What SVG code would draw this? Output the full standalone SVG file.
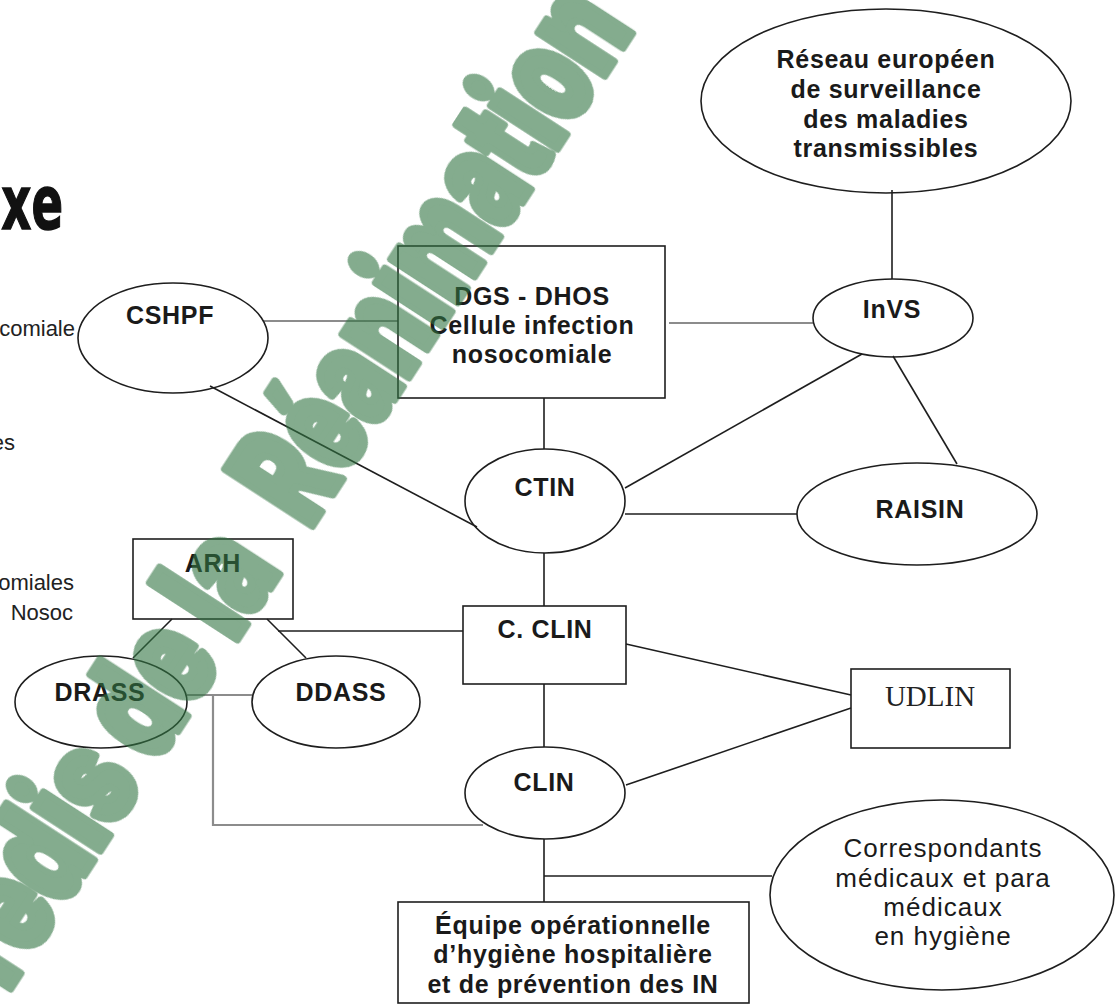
<svg xmlns="http://www.w3.org/2000/svg" width="1118" height="1005" viewBox="0 0 1118 1005">
<style>
.shape{fill:none;stroke:#1e1e1e;stroke-width:1.6}
.ln{stroke:#1e1e1e;stroke-width:1.6;fill:none}
.gl{stroke:#8c8c8c;stroke-width:2.2;fill:none}
.lbl{font-family:"Liberation Sans",Arial,sans-serif;font-weight:bold;font-size:25px;letter-spacing:0.7px;fill:#1a1a1a;text-anchor:middle}
.reg{font-family:"Liberation Sans",Arial,sans-serif;font-size:26px;letter-spacing:1px;fill:#1a1a1a;text-anchor:middle}
.frag{font-family:"Liberation Sans",Arial,sans-serif;font-size:22px;fill:#222;text-anchor:end}
.wm{font-family:Inter,Lato,"DejaVu Sans",sans-serif;font-weight:900;font-size:142px;fill:#327543;stroke:#327543;stroke-width:9;stroke-linejoin:round}
</style>
<rect width="1118" height="1005" fill="#fff"/>
<g id="page-fragments">
<text transform="translate(63,229) scale(0.63,1)" style="font-family:'DejaVu Sans',sans-serif;font-weight:bold;font-size:74px;fill:#111;stroke:#111;stroke-width:1.5;text-anchor:end">xe</text>
<text class="frag" x="75" y="336">comiale</text>
<text class="frag" x="15" y="450">es</text>
<text class="frag" x="74" y="590">omiales</text>
<text class="frag" x="73" y="620">Nosoc</text>
</g>
<g id="connectors">
<line class="gl" x1="263" y1="321" x2="398" y2="321"/>
<line class="gl" x1="669" y1="323" x2="813" y2="323"/>
<line class="ln" x1="892" y1="190" x2="892" y2="279"/>
<line class="ln" x1="862" y1="354" x2="625" y2="488"/>
<line class="ln" x1="893" y1="356" x2="957" y2="464"/>
<line class="ln" x1="625" y1="514" x2="797" y2="514"/>
<line class="ln" x1="544" y1="398" x2="544" y2="449"/>
<line class="ln" x1="210" y1="386" x2="477" y2="527"/>
<line class="ln" x1="544" y1="553" x2="544" y2="606"/>
<line class="ln" x1="172" y1="619" x2="133" y2="658"/>
<line class="ln" x1="267" y1="619" x2="306" y2="658"/>
<line class="ln" x1="278" y1="631" x2="463" y2="631"/>
<line class="ln" x1="626" y1="644" x2="851" y2="695"/>
<line class="ln" x1="626" y1="785" x2="851" y2="708"/>
<line class="ln" x1="544" y1="684" x2="544" y2="747"/>
<polyline class="gl" points="187,695 252,695"/>
<polyline class="gl" points="213,695 213,825 483,825"/>
<line class="ln" x1="544" y1="839" x2="544" y2="902"/>
<line class="ln" x1="544" y1="876" x2="772" y2="876"/>
</g>
<g id="reseau">
<ellipse class="shape" cx="886" cy="101" rx="185" ry="92"/>
<text class="lbl" x="886" y="68">Réseau européen</text>
<text class="lbl" x="886" y="98">de surveillance</text>
<text class="lbl" x="886" y="128">des maladies</text>
<text class="lbl" x="886" y="157">transmissibles</text>
</g>
<g id="cshpf">
<ellipse class="shape" cx="173" cy="338" rx="95" ry="55"/>
<text class="lbl" x="170" y="324">CSHPF</text>
</g>
<g id="dgs">
<rect class="shape" x="398" y="246" width="267" height="152"/>
<text class="lbl" x="532" y="305">DGS - DHOS</text>
<text class="lbl" x="532" y="334">Cellule infection</text>
<text class="lbl" x="532" y="363">nosocomiale</text>
</g>
<g id="invs">
<ellipse class="shape" cx="893" cy="318" rx="80" ry="39"/>
<text class="lbl" x="892" y="318">InVS</text>
</g>
<g id="ctin">
<ellipse class="shape" cx="545" cy="501" rx="80" ry="52"/>
<text class="lbl" x="545" y="496">CTIN</text>
</g>
<g id="raisin">
<ellipse class="shape" cx="917" cy="514" rx="120" ry="51"/>
<text class="lbl" x="920" y="518">RAISIN</text>
</g>
<g id="arh">
<rect class="shape" x="133" y="539" width="160" height="80"/>
<text class="lbl" x="213" y="572">ARH</text>
</g>
<g id="cclin">
<rect class="shape" x="463" y="606" width="163" height="78"/>
<text class="lbl" x="545" y="638">C. CLIN</text>
</g>
<g id="drass">
<ellipse class="shape" cx="101" cy="702" rx="86" ry="46"/>
<text class="lbl" x="100" y="701">DRASS</text>
</g>
<g id="ddass">
<ellipse class="shape" cx="336" cy="702" rx="84" ry="46"/>
<text class="lbl" x="341" y="701">DDASS</text>
</g>
<g id="udlin">
<rect class="shape" x="851" y="669" width="159" height="79"/>
<text x="930" y="706" style="font-family:'Liberation Serif','Times New Roman',serif;font-size:29px;fill:#222;text-anchor:middle">UDLIN</text>
</g>
<g id="clin">
<ellipse class="shape" cx="545" cy="793" rx="80" ry="46"/>
<text class="lbl" x="544" y="791">CLIN</text>
</g>
<g id="correspondants">
<ellipse class="shape" cx="942" cy="895" rx="172" ry="95"/>
<text class="reg" x="943" y="857">Correspondants</text>
<text class="reg" x="943" y="887">médicaux et para</text>
<text class="reg" x="943" y="916">médicaux</text>
<text class="reg" x="943" y="945">en hygiène</text>
</g>
<g id="equipe">
<rect class="shape" x="398" y="902" width="351" height="101"/>
<text class="lbl" x="573" y="934">Équipe opérationnelle</text>
<text class="lbl" x="573" y="963">d’hygiène hospitalière</text>
<text class="lbl" x="573" y="993">et de prévention des IN</text>
</g>
<g id="watermark" opacity="0.6">
<text class="wm" transform="translate(7,993) rotate(-57)" textLength="505" lengthAdjust="spacingAndGlyphs">redis de la</text>
<text class="wm" transform="translate(309,530) rotate(-57)" textLength="598" lengthAdjust="spacingAndGlyphs">Réanimation</text>
</g>
</svg>
